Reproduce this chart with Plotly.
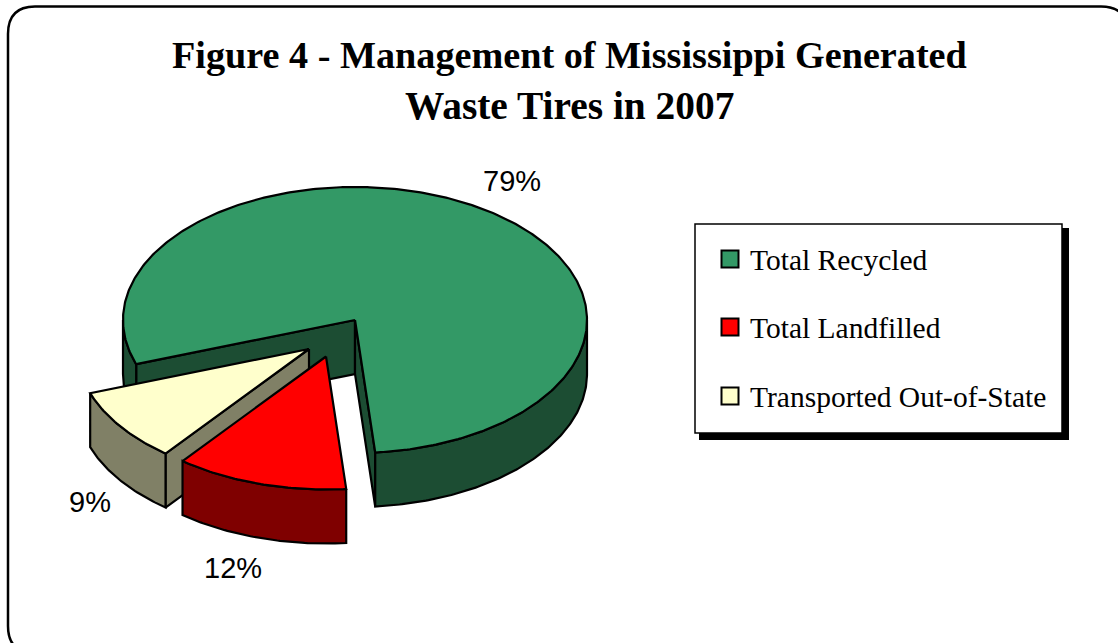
import numpy as np
import plotly.graph_objects as go

# ---- data ----
CATEGORIES = ["Total Recycled", "Total Landfilled", "Transported Out-of-State"]
PERCENTS = [79, 12, 9]
TITLE_LINES = ["Figure 4 - Management of Mississippi Generated", "Waste Tires in 2007"]

# ---- styles ----
TOP_COLORS = ["#339966", "#FF0000", "#FFFFCC"]
SIDE_COLORS = ["#1C4D33", "#7F0000", "#808066"]
EXPLODE = [(0, 0), (-29, 36.5), (-46, 29)]
LABEL_POS = [(512, 181), (233, 568), (90, 502)]
LEGEND_Y = [259, 327, 396]
TITLE_Y = [55, 106]
TITLE_SIZE = [38.2, 39.4]
CX, CY, RX, RY, DEPTH = 355, 320, 232, 133, 54
START_ANGLE = 250.6  # degrees clockwise from 12 o'clock
LW = 2.2


def rim(a, ox, oy, dz=0):
    t = np.radians(a)
    return CX + ox + RX * np.sin(t), CY + oy - RY * np.cos(t) + dz


def arc(a0, a1, ox, oy, dz=0):
    n = max(2, int(abs(a1 - a0) * 1.5))
    return rim(np.linspace(a0, a1, n), ox, oy, dz)


def poly(fig, xs, ys, color, name=None):
    fig.add_trace(go.Scatter(
        x=np.append(xs, xs[0]), y=np.append(ys, ys[0]), mode="lines", fill="toself",
        fillcolor=color, line=dict(color="black", width=LW),
        showlegend=False, name=name or "", hoverinfo="name" if name else "skip"))


def outer_wall(fig, a0, a1, ox, oy, color):
    xt, yt = arc(a0, a1, ox, oy)
    xb, yb = arc(a0, a1, ox, oy, DEPTH)
    poly(fig, np.r_[xt, xb[::-1]], np.r_[yt, yb[::-1]], color)


def cut_wall(fig, a, ox, oy, color):
    x, y = rim(a, ox, oy)
    ax, ay = CX + ox, CY + oy
    poly(fig, np.array([ax, ax, x, x]), np.array([ay, ay + DEPTH, y + DEPTH, y]), color)


def top(fig, a0, a1, ox, oy, color, name):
    x, y = arc(a0, a1, ox, oy)
    poly(fig, np.r_[CX + ox, x], np.r_[CY + oy, y], color, name)


# slice angles from the values
spans = [p / sum(PERCENTS) * 360 for p in PERCENTS]
starts = [START_ANGLE + sum(spans[:i]) for i in range(3)]
ends = [s + d for s, d in zip(starts, spans)]

fig = go.Figure()

# main slice (Total Recycled): walls first, then the top
a0, a1 = starts[0], ends[0]
cut_wall(fig, a0, 0, 0, SIDE_COLORS[0])
cut_wall(fig, a1, 0, 0, SIDE_COLORS[0])
outer_wall(fig, a0, 270, 0, 0, SIDE_COLORS[0])
outer_wall(fig, 450, a1, 0, 0, SIDE_COLORS[0])
top(fig, a0, a1, 0, 0, TOP_COLORS[0], CATEGORIES[0])

# exploded yellow slice (Transported Out-of-State)
a0, a1 = starts[2] % 360, (starts[2] % 360) + spans[2]
ox, oy = EXPLODE[2]
cut_wall(fig, a0, ox, oy, SIDE_COLORS[2])
outer_wall(fig, a0, a1, ox, oy, SIDE_COLORS[2])
top(fig, a0, a1, ox, oy, TOP_COLORS[2], CATEGORIES[2])

# exploded red slice (Total Landfilled)
a0, a1 = starts[1] % 360, (starts[1] % 360) + spans[1]
ox, oy = EXPLODE[1]
outer_wall(fig, a0, a1, ox, oy, SIDE_COLORS[1])
top(fig, a0, a1, ox, oy, TOP_COLORS[1], CATEGORIES[1])

# legend swatches
fig.add_trace(go.Scatter(
    x=[730] * 3, y=LEGEND_Y, mode="markers", showlegend=False, hoverinfo="skip",
    marker=dict(symbol="square", size=17, color=TOP_COLORS, line=dict(color="black", width=2))))

shapes = [
    # rounded frame running off the canvas on the right and at the bottom
    dict(type="path", layer="below", fillcolor="white", line=dict(color="black", width=2.5),
         path="M 8 34 Q 8 6.5 35 6.5 L 1101 6.5 Q 1128 6.5 1128 34 L 1128 626 Q 1128 653 1101 653 "
              "L 35 653 Q 8 653 8 626 Z"),
    dict(type="rect", layer="below", x0=699, y0=228, x1=1069, y1=440, fillcolor="black",
         line=dict(width=0)),
    dict(type="rect", layer="below", x0=695, y0=224, x1=1062, y1=433, fillcolor="white",
         line=dict(color="black", width=1.5)),
]

annotations = []
for line, y, size in zip(TITLE_LINES, TITLE_Y, TITLE_SIZE):
    annotations.append(dict(x=569, y=y, text=f"<b>{line}</b>", showarrow=False, xanchor="center",
                            yanchor="middle",
                            font=dict(family="Liberation Serif", size=size, color="black")))
for p, (x, y) in zip(PERCENTS, LABEL_POS):
    annotations.append(dict(x=x, y=y, text=f"{p}%", showarrow=False, xanchor="center", yanchor="middle",
                            font=dict(family="Liberation Sans", size=29, color="black")))
for c, y in zip(CATEGORIES, LEGEND_Y):
    annotations.append(dict(x=748, y=y + 1, text=c, showarrow=False, xanchor="left", yanchor="middle",
                            font=dict(family="Liberation Serif", size=29.5, color="black")))

fig.update_layout(
    width=1118, height=643, margin=dict(l=0, r=0, t=0, b=0), showlegend=False,
    paper_bgcolor="white", plot_bgcolor="white", shapes=shapes, annotations=annotations,
    xaxis=dict(range=[0, 1118], visible=False, fixedrange=True),
    yaxis=dict(range=[643, 0], visible=False, fixedrange=True),
)
fig.write_html(
    "out.html", config={"displayModeBar": False},
    post_script="document.documentElement.style.overflow='hidden';document.body.style.margin='0';",
)
